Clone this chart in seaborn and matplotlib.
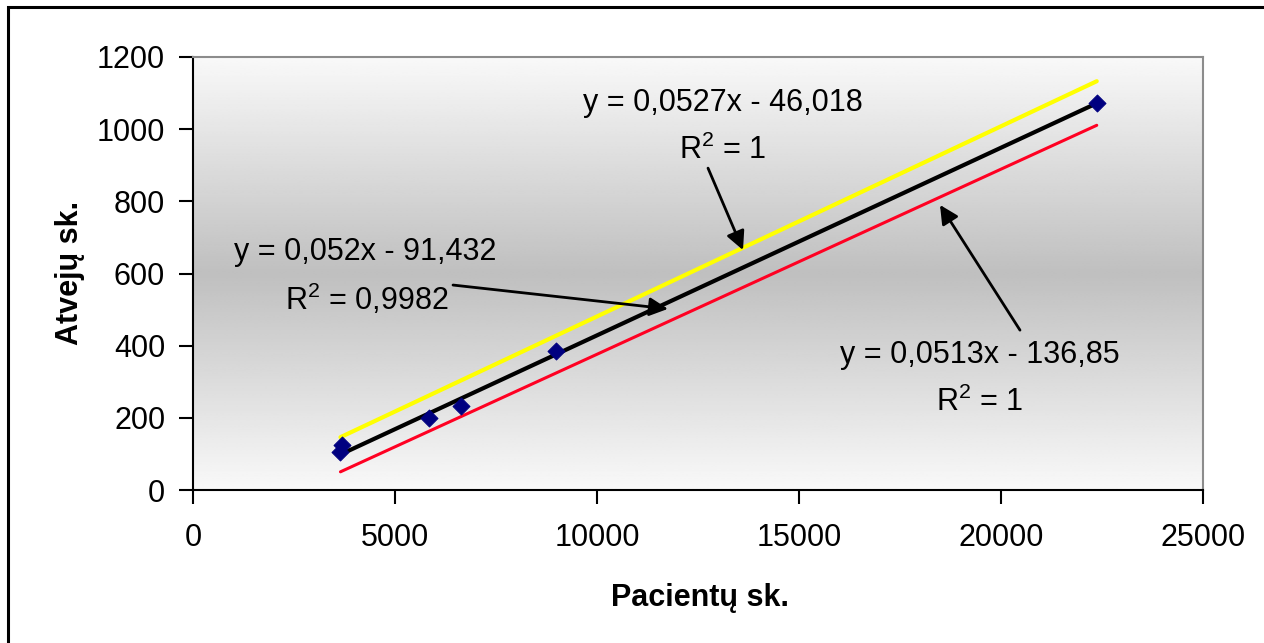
import numpy as np
import pandas as pd
import matplotlib
matplotlib.use("Agg")
import matplotlib.pyplot as plt
import seaborn as sns
from matplotlib.patches import Rectangle

# ---- data ----
pacientai = [3650, 3700, 5830, 6630, 8990, 22370]
atvejai = [105, 125, 199, 233, 386, 1072]

trend_names = ["yellow", "black", "red"]
slopes = [0.0527, 0.052, 0.0513]
intercepts = [-46.018, -91.432, -136.85]
trend_x = [3650, 22370]
trend_colors = ["#ffff00", "#000000", "#ff0022"]
trend_widths = [3.0, 3.0, 2.2]

eq_texts = ["y = 0,0527x - 46,018", "y = 0,052x - 91,432", "y = 0,0513x - 136,85"]
r2_texts = ["R$^2$ = 1", "R$^2$ = 0,9982", "R$^2$ = 1"]

x_ticks = [0, 5000, 10000, 15000, 20000, 25000]
y_ticks = [0, 200, 400, 600, 800, 1000, 1200]

# ---- style ----
sns.set_style("white")
plt.rcParams["font.family"] = ["Liberation Sans", "DejaVu Sans"]
plt.rcParams["mathtext.fontset"] = "custom"
plt.rcParams["mathtext.rm"] = "Liberation Sans"
plt.rcParams["mathtext.it"] = "Liberation Sans:italic"
plt.rcParams["text.color"] = "black"
plt.rcParams["xtick.color"] = "black"
plt.rcParams["ytick.color"] = "black"

W, H = 1264, 643
fig = plt.figure(figsize=(W / 100, H / 100), dpi=100)
ax = fig.add_axes([193 / W, (H - 490) / H, 1010 / W, 433 / H])

# gradient background (light at top and bottom, gray in the middle)
t = np.linspace(0, 1, 256)
g = 0.975 - (0.975 - 0.75) * (1 - np.abs(2 * t - 1))
grad = np.repeat(g[:, None], 2, axis=1)
ax.imshow(grad, extent=[0, 1, 0, 1], transform=ax.transAxes, aspect="auto",
          cmap="gray", vmin=0, vmax=1, zorder=0, interpolation="bilinear")

# trend lines
rows = []
for n, m, b in zip(trend_names, slopes, intercepts):
    for xv in trend_x:
        rows.append({"name": n, "x": xv, "y": m * xv + b})
df_lines = pd.DataFrame(rows)
for n, c, lw in zip(trend_names, trend_colors, trend_widths):
    sns.lineplot(data=df_lines[df_lines["name"] == n], x="x", y="y", color=c,
                 lw=lw, ax=ax, zorder=3)

# points
df_pts = pd.DataFrame({"x": pacientai, "y": atvejai})
sns.scatterplot(data=df_pts, x="x", y="y", marker="D", s=75, color="#000080",
                edgecolor="#000080", ax=ax, zorder=4)

ax.set_xlim(0, 25000)
ax.set_ylim(0, 1200)
ax.set_xticks(x_ticks)
ax.set_yticks(y_ticks)
ax.set_xticklabels([str(v) for v in x_ticks], fontsize=22)
ax.set_yticklabels([str(v) for v in y_ticks], fontsize=22)
ax.tick_params(axis="both", direction="out", length=10, width=1.5, color="black",
               labelcolor="black", left=True, bottom=True)
ax.tick_params(axis="y", pad=10)
ax.tick_params(axis="x", pad=14)
ax.set_xlabel("")
ax.set_ylabel("")
for s in ["left", "bottom"]:
    ax.spines[s].set_color("black")
    ax.spines[s].set_linewidth(1.5)
for s in ["top", "right"]:
    ax.spines[s].set_color("#8c8c8c")
    ax.spines[s].set_linewidth(1.5)

# annotations
fs = 22
eq_pos = [(13120, 1073), (4257, 660), (19480, 374)]
r2_pos = [(13120, 942), (4300, 527), (19480, 244)]
arrows = [((12748, 892), (13614, 665)),
          ((6436, 568), (11757, 502)),
          ((20470, 443), (18490, 790))]
for (ex, ey), (rx, ry), et, rt in zip(eq_pos, r2_pos, eq_texts, r2_texts):
    ax.text(ex, ey, et, ha="center", va="center", fontsize=fs, color="black", zorder=5)
    ax.text(rx, ry, rt, ha="center", va="center", fontsize=fs, color="black", zorder=5)
for tail, head in arrows:
    ax.annotate("", xy=head, xytext=tail,
                arrowprops=dict(arrowstyle="-|>", mutation_scale=28, lw=2,
                                color="black", shrinkA=0, shrinkB=0),
                zorder=6)

# axis titles
fig.text(70 / W, 1 - 273 / H, "Atvejų sk.", rotation=90, ha="center", va="center",
         fontsize=22, fontweight="bold", color="black")
fig.text(700 / W, 1 - 598 / H, "Pacientų sk.", ha="center", va="center",
         fontsize=22, fontweight="bold", color="black")

# outer chart frame (cut at right/bottom)
fig.patches.append(Rectangle((8 / W, -0.05), 1.2, 1 - 7 / H + 0.05, transform=fig.transFigure,
                             fill=False, edgecolor="black", lw=2.2))

fig.savefig("out.png", dpi=100, facecolor="white")
